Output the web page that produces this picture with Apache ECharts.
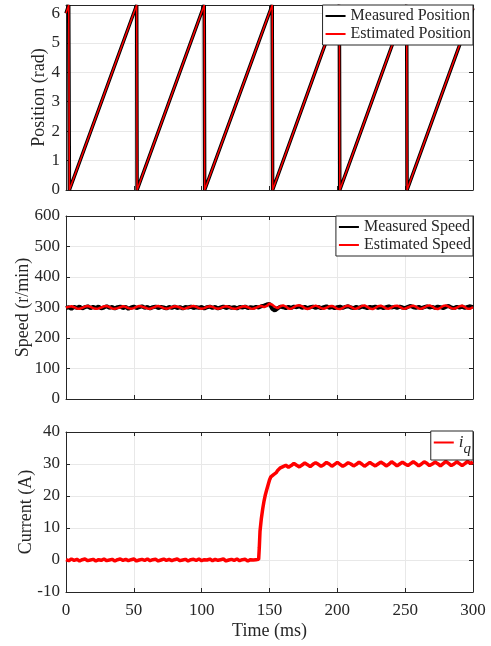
<!DOCTYPE html>
<html>
<head>
<meta charset="utf-8">
<script src="https://cdn.jsdelivr.net/npm/echarts@6/dist/echarts.min.js"></script>
<style>
  html, body { margin: 0; padding: 0; background: #fff; }
  #chart { width: 491px; height: 646px; }
</style>
</head>
<body>
<div id="chart"></div>
<script>
// position (rad): sawtooth corners
const posTime = [0, 2.0, 2.5, 52.1, 52.4, 101.9, 102.2, 152.0, 152.3, 201.5, 201.8, 251.1, 251.4, 300]
const posValue = [6.0, 6.2832, 0, 6.2832, 0, 6.2832, 0, 6.2832, 0, 6.2832, 0, 6.2832, 0, 6.18]

// speed (r/min), one sample every 2 ms from 0 to 300 ms
const speedStep = 2
const measuredSpeed = [
  298, 301, 296, 302, 299, 303, 297, 301, 304, 298,
  302, 299, 303, 297, 300, 304, 299, 302, 297, 301,
  303, 298, 302, 296, 300, 303, 298, 301, 304, 299,
  302, 297, 301, 303, 298, 302, 300, 297, 302, 299,
  303, 298, 301, 297, 302, 300, 303, 298, 301, 299,
  302, 297, 301, 303, 299, 302, 297, 300, 303, 298,
  302, 299, 301, 297, 302, 300, 303, 298, 301, 299,
  302, 300, 304, 306, 310, 312, 296, 290, 297, 303,
  301, 298, 302, 299, 303, 301, 304, 299, 302, 298,
  301, 303, 299, 302, 298, 301, 304, 299, 302, 298,
  301, 303, 299, 302, 304, 300, 298, 302, 299, 303,
  301, 298, 302, 300, 303, 299, 302, 298, 301, 304,
  300, 302, 299, 303, 300, 298, 302, 305, 301, 299,
  302, 298, 301, 304, 300, 302, 299, 303, 301, 298,
  302, 305, 300, 298, 302, 300, 303, 299, 302, 304,
  301
]
const estimatedSpeed = [
  300, 302, 304, 301, 297, 296, 299, 303, 305, 302,
  298, 296, 297, 300, 304, 305, 301, 297, 296, 298,
  301, 304, 302, 298, 296, 298, 302, 305, 303, 300,
  297, 296, 299, 303, 305, 302, 298, 296, 298, 301,
  304, 303, 300, 296, 297, 300, 303, 305, 302, 298,
  296, 298, 302, 304, 302, 298, 296, 298, 302, 304,
  302, 298, 296, 297, 300, 303, 304, 301, 297, 296,
  299, 303, 305, 301, 305, 313, 309, 302, 298, 304,
  307, 303, 297, 296, 301, 306, 307, 304, 298, 295,
  298, 303, 306, 303, 298, 296, 299, 304, 305, 301,
  296, 295, 299, 304, 306, 302, 297, 296, 300, 305,
  307, 302, 297, 295, 299, 304, 306, 302, 297, 296,
  300, 305, 306, 302, 297, 296, 300, 304, 306, 302,
  297, 296, 300, 305, 307, 303, 297, 295, 299, 305,
  307, 303, 298, 296, 299, 304, 306, 301, 296, 296,
  301
]

// iq current (A): low part 0..140 ms and settled part 160..300 ms at 2 ms, step in between
const currentLow = [
  0.1, -0.2, 0.3, -0.1, 0.2, -0.3, 0.1, 0.3, -0.2, 0.0,
  0.2, -0.3, 0.1, -0.1, 0.3, -0.2, 0.0, 0.2, -0.3, 0.1,
  0.3, -0.1, 0.2, -0.2, 0.1, 0.3, -0.3, 0.0, 0.2, -0.1,
  0.3, -0.2, 0.1, 0.2, -0.3, 0.0, 0.3, -0.1, 0.2, -0.2,
  0.1, 0.3, -0.2, 0.0, 0.2, -0.3, 0.1, 0.2, -0.1, 0.3,
  -0.2, 0.1, 0.0, 0.3, -0.2, 0.2, -0.1, 0.1, 0.3, -0.3,
  0.0, 0.2, -0.1, 0.3, -0.2, 0.1, 0.2, -0.3, 0.1, 0.0,
  0.1
]
const riseTime = [141, 142, 142.5, 143, 144, 145, 146, 147, 148, 149, 150, 151, 152, 153, 154, 155, 156, 157, 158, 159]
const riseValue = [0.0, 0.2, 4, 9, 13, 16, 18.5, 20.5, 22, 23.5, 25, 26, 26.5, 26.7, 27, 27.3, 28, 28.6, 28.8, 29.0]
const currentHigh = [
  29.2, 29.6, 29.0, 29.5, 30.2, 29.6, 29.1, 29.7, 30.3, 29.8,
  29.2, 29.9, 30.4, 29.9, 29.3, 29.8, 30.5, 30.0, 29.3, 29.9,
  30.5, 29.9, 29.3, 29.8, 30.4, 30.0, 29.4, 29.9, 30.6, 30.0,
  29.3, 29.9, 30.5, 29.9, 29.4, 30.0, 30.6, 30.1, 29.4, 29.9,
  30.7, 30.1, 29.4, 30.0, 30.6, 30.0, 29.5, 30.1, 30.7, 30.1,
  29.4, 30.0, 30.7, 30.2, 29.5, 30.0, 30.6, 30.1, 29.4, 30.1,
  30.8, 30.2, 29.5, 30.0, 30.7, 30.1, 29.5, 30.1, 30.8, 30.2,
  30.6
]

const FONT = 'Liberation Serif'
const INK = '#262626'

const pairs = (ts, vs) => ts.map((t, i) => [t, vs[i]])
const stepped = (vs, t0) => vs.map((v, i) => [t0 + i * speedStep, v])

const currentData = stepped(currentLow, 0)
  .concat(pairs(riseTime, riseValue))
  .concat(stepped(currentHigh, 160))

const grids = [
  { left: 66, right: 18, top: 5, height: 185 },
  { left: 66, right: 18, top: 216, height: 183 },
  { left: 66, right: 18, top: 432, height: 160 }
]

const axisLine = { show: true, onZero: false, lineStyle: { color: INK, width: 1 } }
const tick = { show: true, inside: true, length: 4, lineStyle: { color: INK } }
const gridLine = { show: true, lineStyle: { color: '#e8e8e8', width: 1 } }
const labelStyle = { color: INK, fontFamily: FONT, fontSize: 17 }

const xAxes = []
const yAxes = []
const yRanges = [
  { min: 0, max: 6.2832, interval: 1, name: 'Position (rad)', gap: 18 },
  { min: 0, max: 600, interval: 100, name: 'Speed (r/min)', gap: 34 },
  { min: -10, max: 40, interval: 10, name: 'Current (A)', gap: 31 }
]
grids.forEach((g, i) => {
  const last = i === 2
  xAxes.push({
    type: 'value', gridIndex: i, min: 0, max: 300, interval: 50,
    axisLine, axisTick: tick, splitLine: gridLine,
    axisLabel: { show: last, margin: 10, ...labelStyle },
    name: last ? 'Time (ms)' : '',
    nameLocation: 'middle', nameGap: 30, nameMoveOverlap: false,
    nameTextStyle: { color: INK, fontFamily: FONT, fontSize: 18 }
  })
  xAxes.push({
    type: 'value', gridIndex: i, position: 'top', min: 0, max: 300, interval: 50,
    axisLine, axisTick: tick, splitLine: { show: false }, axisLabel: { show: false }
  })
  const r = yRanges[i]
  yAxes.push({
    type: 'value', gridIndex: i, min: r.min, max: r.max, interval: r.interval,
    axisLine, axisTick: tick, splitLine: gridLine,
    axisLabel: {
      margin: 6, ...labelStyle,
      formatter: v => (Number.isInteger(v) ? String(v) : '')
    },
    name: r.name, nameLocation: 'middle', nameGap: r.gap, nameMoveOverlap: false,
    nameTextStyle: { color: INK, fontFamily: FONT, fontSize: 18 }
  })
  yAxes.push({
    type: 'value', gridIndex: i, position: 'right', min: r.min, max: r.max, interval: r.interval,
    axisLine, axisTick: tick, splitLine: { show: false }, axisLabel: { show: false }
  })
})

const lineSeries = (name, data, axis, color, width) => ({
  name, type: 'line', data,
  xAxisIndex: axis * 2, yAxisIndex: axis * 2,
  showSymbol: false, symbol: 'none',
  lineStyle: { color, width },
  itemStyle: { color },
  animation: false
})

const legendBase = {
  orient: 'vertical', right: 18,
  backgroundColor: '#fff', borderColor: INK, borderWidth: 1, borderRadius: 0,
  padding: [3, 2, 3, 2], itemGap: 2, itemWidth: 20, itemHeight: 12,
  itemStyle: { opacity: 0 },
  textStyle: { color: INK, fontFamily: FONT, fontSize: 16 }
}

const option = {
  backgroundColor: '#fff',
  animation: false,
  grid: grids,
  xAxis: xAxes,
  yAxis: yAxes,
  legend: [
    { ...legendBase, top: 5, data: ['Measured Position', 'Estimated Position'] },
    { ...legendBase, top: 216, data: ['Measured Speed', 'Estimated Speed'] },
    {
      ...legendBase, top: 431, data: ['iq'],
      formatter: () => '{i|i}{q|q}',
      textStyle: {
        color: INK, fontFamily: FONT, fontSize: 16,
        rich: {
          i: { fontFamily: FONT, fontStyle: 'italic', fontSize: 17, color: INK },
          q: { fontFamily: FONT, fontStyle: 'italic', fontSize: 15, color: INK, padding: [14, 0, 0, 0] }
        }
      }
    }
  ],
  series: [
    lineSeries('Measured Position', pairs(posTime, posValue), 0, '#000', 3.5),
    lineSeries('Estimated Position', pairs(posTime, posValue), 0, '#ff0000', 1.5),
    lineSeries('Measured Speed', stepped(measuredSpeed, 0), 1, '#000', 4),
    lineSeries('Estimated Speed', stepped(estimatedSpeed, 0), 1, '#ff0000', 2.5),
    lineSeries('iq', currentData, 2, '#ff0000', 3.5)
  ]
}

const chart = echarts.init(document.getElementById('chart'))
chart.setOption(option)
</script>
</body>
</html>
